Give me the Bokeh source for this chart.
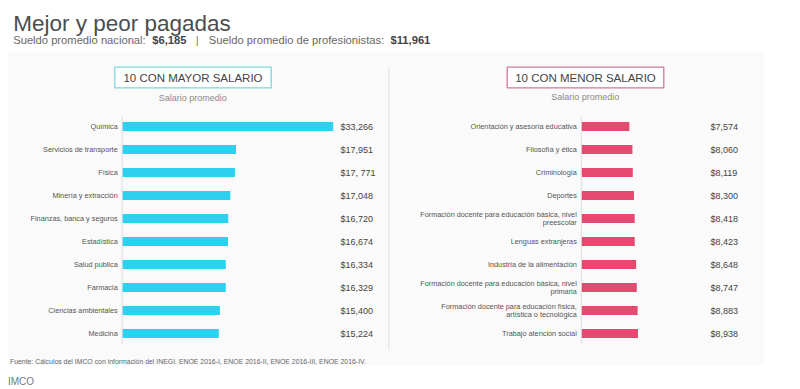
from bokeh.plotting import figure
from bokeh.models import Range1d, ColumnDataSource
from bokeh.core.properties import value
from bokeh.embed import file_html
from bokeh.resources import INLINE

# ---------------- data ----------------
top_categories = ["Química", "Servicios de transporte", "Física", "Minería y extracción",
                  "Finanzas, banca y seguros", "Estadística", "Salud pública", "Farmacia",
                  "Ciencias ambientales", "Medicina"]
top_values = [33266, 17951, 17771, 17048, 16720, 16674, 16334, 16329, 15400, 15224]
top_labels = ["$33,266", "$17,951", "$17, 771", "$17,048", "$16,720", "$16,674",
              "$16,334", "$16,329", "$15,400", "$15,224"]

bottom_categories = ["Orientación y asesoría educativa", "Filosofía y ética", "Criminología",
                     "Deportes",
                     "Formación docente para educación básica, nivel\npreescolar",
                     "Lenguas extranjeras", "Industria de la alimentación",
                     "Formación docente para educación básica, nivel\nprimaria",
                     "Formación docente para educación física,\nartística o tecnológica",
                     "Trabajo atención social"]
bottom_values = [7574, 8060, 8119, 8300, 8418, 8423, 8648, 8747, 8883, 8938]
bottom_labels = ["$7,574", "$8,060", "$8,119", "$8,300", "$8,418", "$8,423",
                 "$8,648", "$8,747", "$8,883", "$8,938"]

title = "Mejor y peor pagadas"
sub_parts = ["Sueldo promedio nacional: ", "$6,185", "|",
             "Sueldo promedio de profesionistas: ", "$11,961"]
left_header = "10 CON MAYOR SALARIO"
right_header = "10 CON MENOR SALARIO"
axis_caption = "Salario promedio"
source_note = ("Fuente: Cálculos del IMCO con información del INEGI. ENOE 2016-I, "
               "ENOE 2016-II, ENOE 2016-III, ENOE 2016-IV.")
credit = "IMCO"

# ---------------- layout (page pixel coordinates) ----------------
W, H = 800, 389
FONT = value("Liberation Sans")
PX_PER_PESO = 0.006343
LEFT_BASE = 121.7
RIGHT_BASE = 580.8
ROW0, ROW_STEP = 126.0, 23.0

CYAN = "#2bd1ef"
PINK = "#e5496f"

p = figure(width=W, height=H, output_backend="svg", toolbar_location=None,
           x_range=Range1d(0, W), y_range=Range1d(H, 0),
           x_axis_location=None, y_axis_location=None,
           min_border=0, outline_line_color=None,
           background_fill_color="white", border_fill_color="white")
p.grid.visible = False

p.extra_x_ranges = {
    "left": Range1d(-LEFT_BASE / PX_PER_PESO, (W - LEFT_BASE) / PX_PER_PESO),
    "right": Range1d(-RIGHT_BASE / PX_PER_PESO, (W - RIGHT_BASE) / PX_PER_PESO),
}
p.extra_y_ranges = {"rows": Range1d((H - ROW0) / ROW_STEP, -ROW0 / ROW_STEP)}

# panel background
p.quad(left=[8], right=[763], top=[52], bottom=[365], fill_color="#fafafa", line_color=None)

rows = list(range(len(top_values)))

# left side
ls = ColumnDataSource(dict(y=rows, v=top_values, cat=top_categories, lab=top_labels))
p.hbar(y="y", left=0, right="v", height=0.39, source=ls, x_range_name="left",
       y_range_name="rows", fill_color=CYAN, line_color=None)
p.segment(x0=[0], x1=[0], y0=[-0.48], y1=[9.5], x_range_name="left", y_range_name="rows",
          line_color="#dddddd", line_width=1)
p.text(x=0, y="y", text="cat", source=ls, x_range_name="left", y_range_name="rows",
       x_offset=-4.5, text_align="right", text_baseline="middle",
       text_font=FONT, text_font_size="7.3px", text_color="#555555")
p.text(x=340, y="y", text="lab", source=ls, y_range_name="rows",
       text_align="left", text_baseline="middle",
       text_font=FONT, text_font_size="9px", text_color="#444444")

# right side
rs = ColumnDataSource(dict(y=rows, v=bottom_values, cat=bottom_categories, lab=bottom_labels))
p.hbar(y="y", left=0, right="v", height=0.39, source=rs, x_range_name="right",
       y_range_name="rows", fill_color=PINK, line_color=None)
p.segment(x0=[0], x1=[0], y0=[-0.4], y1=[9.5], x_range_name="right", y_range_name="rows",
          line_color="#dddddd", line_width=1)
p.text(x=0, y="y", text="cat", source=rs, x_range_name="right", y_range_name="rows",
       x_offset=-4.5, text_align="right", text_baseline="middle", text_line_height=0.85,
       text_font=FONT, text_font_size="7.3px", text_color="#555555")
p.text(x=710, y="y", text="lab", source=rs, y_range_name="rows",
       text_align="left", text_baseline="middle",
       text_font=FONT, text_font_size="9px", text_color="#444444")

# divider
p.segment(x0=[388.3], x1=[388.3], y0=[66.7], y1=[350], line_color="#e2e2e2", line_width=1)

# header boxes
p.quad(left=[114.3, 506.7], right=[270.7, 663.3], top=[66.7, 66.7], bottom=[87.3, 87.3],
       fill_color="white", line_color=["#7fd6d6", "#d07a93"], line_width=1.3)
p.text(x=[192.5, 585.0], y=[77.3, 77.3], text=[left_header, right_header],
       text_align="center", text_baseline="middle",
       text_font=FONT, text_font_size="11.5px", text_color="#444444")
p.text(x=[192.2, 584.7], y=[97, 96.5], text=[axis_caption, axis_caption],
       text_align="center", text_baseline="middle",
       text_font=FONT, text_font_size="9px", text_color="#8a8a8a")

# title & subtitle
p.text(x=[12.7], y=[22.7], text=[title], text_align="left", text_baseline="alphabetic",
       text_font=FONT, text_font_size="22.5px", text_color="#4d4d4d")
sub_x = [12.7, 151.7, 196.7, 208.3, 390.0]
sub_align = ["left", "left", "center", "left", "left"]
sub_style = ["normal", "bold", "normal", "normal", "bold"]
sub_color = ["#666666", "#444444", "#777777", "#666666", "#444444"]
for tx, sx, al, st, co in zip(sub_parts, sub_x, sub_align, sub_style, sub_color):
    p.text(x=[sx], y=[39.0], text=[tx], text_align=al, text_baseline="alphabetic",
           text_font=FONT, text_font_size="11.2px", text_font_style=st, text_color=co)

# footer
p.text(x=[9.5], y=[360.5], text=[source_note], text_align="left", text_baseline="middle",
       text_font=FONT, text_font_size="6.9px", text_color="#666666")
p.text(x=[7.5], y=[381], text=[credit], text_align="left", text_baseline="middle",
       text_font=FONT, text_font_size="10px", text_color="#777777")

open("out.html", "w").write(file_html(p, INLINE))
